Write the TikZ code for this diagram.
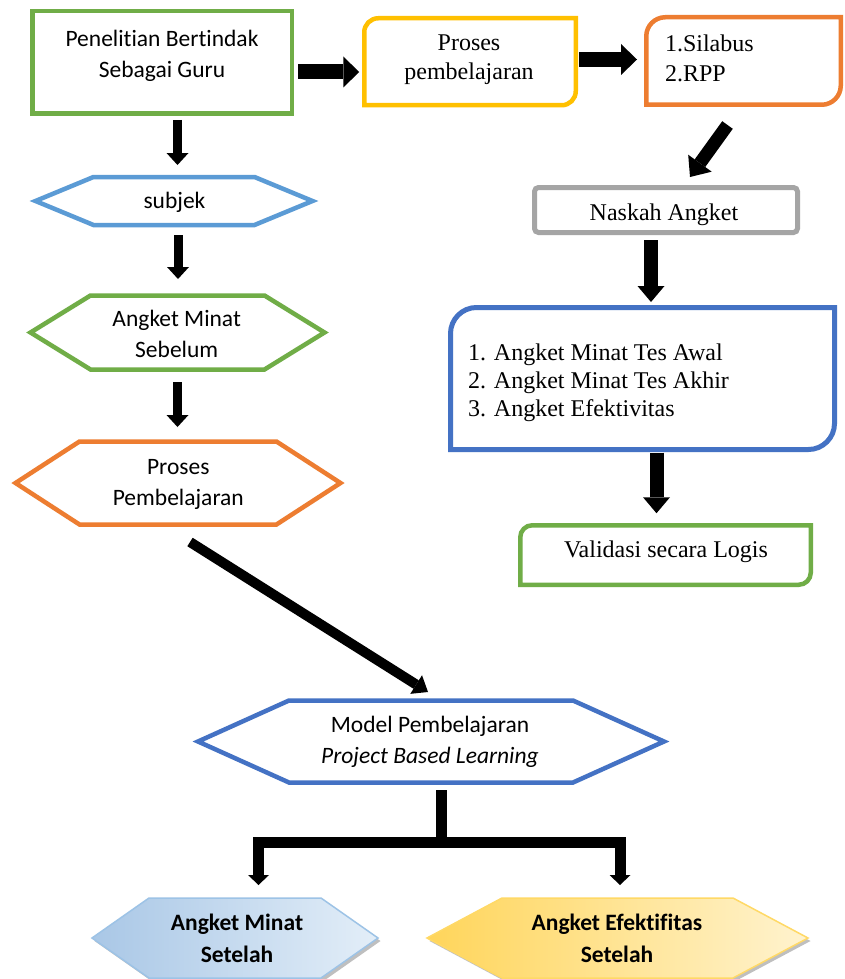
\documentclass[tikz,border=0pt]{standalone}
\usepackage{fontspec}
\setmainfont{Liberation Serif}
\setsansfont{Carlito}[Ligatures={NoCommon,NoContextual}]
\usetikzlibrary{arrows.meta,calc}
\definecolor{cgreen}{HTML}{70AD47}
\definecolor{cyellow}{HTML}{FFC000}
\definecolor{corange}{HTML}{ED7D31}
\definecolor{cgray}{HTML}{A5A5A5}
\definecolor{cblue}{HTML}{4472C4}
\definecolor{clblue}{HTML}{5B9BD5}
\definecolor{lbA}{HTML}{A9C7E6}
\definecolor{lbB}{HTML}{E3EEF8}
\definecolor{lbD}{HTML}{9DC3E6}
\definecolor{ylA}{HTML}{FFD55A}
\definecolor{ylB}{HTML}{FFF3CF}
\definecolor{ylD}{HTML}{FFD966}
% diagonal-rounded box: name, radius, options
\newcommand\dbox[3]{\draw[#3] ([yshift=-#2pt]#1.north west) .. controls ([yshift=-0.45*#2pt]#1.north west) and ([xshift=0.45*#2pt]#1.north west) .. ([xshift=#2pt]#1.north west) -- (#1.north east) -- ([yshift=#2pt]#1.south east) .. controls ([yshift=0.45*#2pt]#1.south east) and ([xshift=-0.45*#2pt]#1.south east) .. ([xshift=-#2pt]#1.south east) -- (#1.south west) -- cycle;}
% hexagon: name, depth, options
\newcommand\hexa[3]{\draw[#3] (#1.west) -- ([xshift=#2pt]#1.north west) -- ([xshift=-#2pt]#1.north east) -- (#1.east) -- ([xshift=-#2pt]#1.south east) -- ([xshift=#2pt]#1.south west) -- cycle;}
\newcommand\hexashade[3]{\shadedraw[#3] (#1.west) -- ([xshift=#2pt]#1.north west) -- ([xshift=-#2pt]#1.north east) -- (#1.east) -- ([xshift=-#2pt]#1.south east) -- ([xshift=#2pt]#1.south west) -- cycle;}
\begin{document}
\begin{tikzpicture}[x=1pt,y=-1pt,
  sanst/.style={font=\sffamily\fontsize{23.5}{31}\selectfont, inner sep=0pt, outer sep=0pt, align=center},
  sanbold/.style={font=\sffamily\bfseries\fontsize{23.5}{32}\selectfont, inner sep=0pt, outer sep=0pt, align=center},
  serift/.style={font=\rmfamily\fontsize{24}{29}\selectfont, inner sep=0pt, outer sep=0pt},
  shapebox/.style={inner sep=0pt, outer sep=0pt, draw=none},
  arrBig/.style={draw=black, line width=15pt, -{Triangle[length=16pt,width=31pt,line width=0pt]}},
  arrDiag/.style={draw=black, line width=13pt, -{Triangle[length=17pt,width=29pt,line width=0pt]}},
  arrDown/.style={draw=black, line width=14pt, -{Triangle[length=16pt,width=27pt,line width=0pt]}},
  arrSm/.style={draw=black, line width=9pt, -{Triangle[length=12pt,width=22pt,line width=0pt]}},
  arrLong/.style={draw=black, line width=10pt, -{Triangle[length=14pt,width=22pt,line width=0pt]}},
  arrBr/.style={draw=black, line width=11pt, line join=miter, -{Triangle[length=10pt,width=21pt,line width=0pt]}},
  trunk/.style={draw=black, line width=11pt},
]
\fill[white] (0,0) rectangle (845,979);
\useasboundingbox (0,0) rectangle (845,979);

% ---------- top row ----------
\node[shapebox, minimum width=259.5pt, minimum height=102.5pt] (n1) at (162,62.5) {};
\draw[line width=4.5pt, cgreen] (n1.north west) rectangle (n1.south east);
\node[sanst] (t1) at (162,55.75) {Penelitian Bertindak\\Sebagai Guru};

\node[shapebox, minimum width=211.5pt, minimum height=87pt] (yel) at (470,61.75) {};
\dbox{yel}{14}{line width=4.5pt, cyellow}
\node[serift, align=center] (tY) at (469,60.1) {Proses\\pembelajaran};

\node[shapebox, minimum width=194.5pt, minimum height=87.5pt] (org) at (743.5,61) {};
\dbox{org}{19}{line width=4.5pt, corange}
\node[serift, align=left, anchor=west, font=\rmfamily\fontsize{24}{30}\selectfont] (tO) at (665,58.8) {1.Silabus\\2.RPP};

% ---------- right column ----------
\node[shapebox, minimum width=263pt, minimum height=45pt] (gry) at (666,210) {};
\draw[line width=5pt, cgray, rounded corners=4pt] (gry.north west) rectangle (gry.south east);
\node[serift, anchor=base] (tG) at (664,220) {Naskah Angket};

\node[shapebox, minimum width=384pt, minimum height=142pt] (blu) at (642.5,378.5) {};
\dbox{blu}{26}{line width=5pt, cblue}
\node[serift, align=left, anchor=north west, font=\rmfamily\fontsize{24}{28}\selectfont] (tB) at (468,343.6) {1. Angket Minat Tes Awal\\2. Angket Minat Tes Akhir\\3. Angket Efektivitas};

\node[shapebox, minimum width=290.5pt, minimum height=59.5pt] (val) at (665.5,555) {};
\dbox{val}{12}{line width=4.5pt, cgreen}
\node[serift, anchor=base] (tV) at (666,557) {Validasi secara Logis};

% ---------- left column ----------
\node[shapebox, minimum width=277pt, minimum height=48pt] (hS) at (174,201) {};
\hexa{hS}{58}{line width=4.5pt, clblue}
\node[sanst, anchor=base] (tS) at (174.5,208) {subjek};

\node[shapebox, minimum width=294pt, minimum height=74pt] (hA) at (177.5,332.5) {};
\hexa{hA}{60}{line width=4.5pt, cgreen}
\node[sanst] (tA) at (176.7,334.2) {Angket Minat\\Sebelum};

\node[shapebox, minimum width=325pt, minimum height=83pt] (hP) at (178,483) {};
\hexa{hP}{64}{line width=4.5pt, corange}
\node[sanst] (tP) at (178.3,484) {Proses\\Pembelajaran};

% ---------- bottom ----------
\node[shapebox, minimum width=466pt, minimum height=82pt] (hM) at (431,741.5) {};
\hexa{hM}{91}{line width=4.5pt, cblue}
\node[sanst] (tM) at (430,742) {Model Pembelajaran\\\textit{Project Based Learning}};

\node[shapebox, minimum width=286pt, minimum height=80pt] (hL) at (235,938) {};
\hexa{hL}{57}{fill=black!45, draw=none, opacity=0.55, transform canvas={xshift=2.5pt,yshift=-3pt}}
\hexashade{hL}{57}{left color=lbA, right color=lbB, draw=lbD, line width=1.5pt}
\node[sanbold] (tL) at (237,938) {Angket Minat\\Setelah};

\node[shapebox, minimum width=381pt, minimum height=80pt] (hR) at (617.5,938) {};
\hexa{hR}{75}{fill=black!45, draw=none, opacity=0.55, transform canvas={xshift=2.5pt,yshift=-3pt}}
\hexashade{hR}{75}{left color=ylA, right color=ylB, draw=ylD, line width=1.5pt}
\node[sanbold] (tR) at (617,938) {Angket Efektifitas\\Setelah};

% ---------- connectors ----------
\draw[arrBig] ($(n1.east)+(6.5,9.5)$) -- ($(yel.west)+(-5,10.25)$);
\draw[arrBig] ($(yel.east)+(3.25,-2.25)$) -- ($(org.west)+(-9.25,-1.5)$);
\draw[arrDiag] ($(org.south)+(-16,20.25)$) -- ($(gry.north)+(24,-10.5)$);
\draw[arrDown] ($(gry.south)+(-15,7.5)$) -- ($(blu.north)+(8.5,-5.5)$);
\draw[arrDown] ($(blu.south)+(14,3)$) -- ($(val.north)+(-9,-12)$);

\draw[arrSm] ($(n1.south)+(15.5,6.25)$) -- ($(hS.north)+(3.5,-12)$);
\draw[arrSm] ($(hS.south)+(4,10)$) -- ($(hA.north)+(0.5,-16.5)$);
\draw[arrSm] ($(hA.south)+(0,12.5)$) -- ($(hP.north)+(-0.5,-14.5)$);
\draw[arrLong] ($(hP.south)+(12,17.5)$) -- ($(hM.north)+(-3,-8.5)$);

\coordinate (jn) at ($(hM.south)+(10,60)$);
\coordinate (eL) at ($(hL.north)+(23.5,-13)$);
\coordinate (eR) at ($(hR.north)+(2.5,-13)$);
\draw[trunk] ($(hM.south)+(10,7.5)$) -- (jn);
\draw[arrBr] (jn) -| (eL);
\draw[arrBr] (jn) -| (eR);
\end{tikzpicture}
\end{document}
